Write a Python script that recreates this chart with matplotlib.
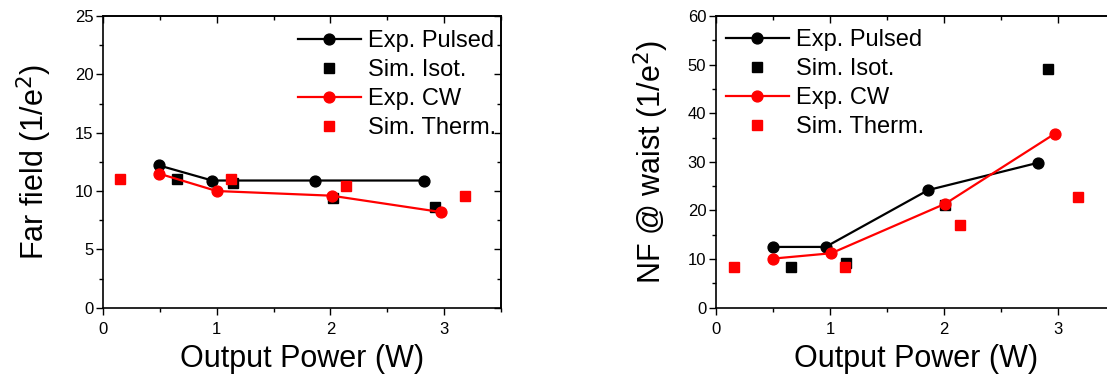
import matplotlib
matplotlib.use("Agg")
import matplotlib.pyplot as plt
from matplotlib.ticker import MultipleLocator

plt.rcParams['font.family'] = ['Liberation Sans', 'DejaVu Sans']

# Far field divergence (1/e^2)
ff_pulsed_x = [0.49, 0.96, 1.86, 2.82]
ff_pulsed_y = [12.2, 10.9, 10.9, 10.9]
ff_isot_x = [0.65, 1.14, 2.02, 2.92]
ff_isot_y = [11.05, 10.65, 9.4, 8.6]
ff_cw_x = [0.49, 1.00, 2.01, 2.97]
ff_cw_y = [11.5, 10.0, 9.6, 8.2]
ff_therm_x = [0.15, 1.13, 2.14, 3.18]
ff_therm_y = [11.0, 11.05, 10.4, 9.55]

# Near field at waist (1/e^2)
nf_pulsed_x = [0.50, 0.96, 1.86, 2.82]
nf_pulsed_y = [12.5, 12.5, 24.2, 29.8]
nf_isot_x = [0.66, 1.14, 2.01, 2.91]
nf_isot_y = [8.4, 9.25, 21.1, 49.2]
nf_cw_x = [0.50, 1.01, 2.01, 2.97]
nf_cw_y = [10.1, 11.2, 21.4, 35.8]
nf_therm_x = [0.16, 1.13, 2.14, 3.17]
nf_therm_y = [8.4, 8.4, 17.1, 22.8]

labels = ["Exp. Pulsed", "Sim. Isot.", "Exp. CW", "Sim. Therm."]

W, H = 1107, 374
fig = plt.figure(figsize=(W / 100, H / 100), dpi=100)

ax1 = fig.add_axes([103 / W, (H - 307.7) / H, 398 / W, 291.7 / H])
ax2 = fig.add_axes([716 / W, (H - 307.7) / H, 399.4 / W, 291.7 / H])


def draw(ax, px, py, ix, iy, cx, cy, tx, ty):
    ax.plot(px, py, '-o', color='black', lw=1.6, ms=7.8, label=labels[0])
    ax.plot(ix, iy, 's', color='black', ms=6.6, lw=0, label=labels[1])
    ax.plot(cx, cy, '-o', color='red', lw=1.6, ms=7.8, label=labels[2])
    ax.plot(tx, ty, 's', color='red', ms=6.6, lw=0, label=labels[3])


draw(ax1, ff_pulsed_x, ff_pulsed_y, ff_isot_x, ff_isot_y,
     ff_cw_x, ff_cw_y, ff_therm_x, ff_therm_y)
draw(ax2, nf_pulsed_x, nf_pulsed_y, nf_isot_x, nf_isot_y,
     nf_cw_x, nf_cw_y, nf_therm_x, nf_therm_y)

ax1.set_ylim(0, 25)
ax1.yaxis.set_major_locator(MultipleLocator(5))
ax1.yaxis.set_minor_locator(MultipleLocator(2.5))
ax2.set_ylim(0, 60)
ax2.yaxis.set_major_locator(MultipleLocator(10))
ax2.yaxis.set_minor_locator(MultipleLocator(5))

for ax in (ax1, ax2):
    ax.set_xlim(0, 3.5)
    ax.xaxis.set_major_locator(MultipleLocator(1))
    ax.xaxis.set_minor_locator(MultipleLocator(0.5))
    ax.tick_params(which='both', direction='out', top=False, right=False,
                   labelsize=12, width=1, pad=2)
    ax.tick_params(axis='x', which='major', pad=5)
    ax.tick_params(which='major', length=5)
    ax.tick_params(which='minor', length=3)
    for s in ax.spines.values():
        s.set_linewidth(1.2)
    # inward mirror ticks on top and right
    sec_x = ax.secondary_xaxis('top')
    sec_x.xaxis.set_major_locator(MultipleLocator(1))
    sec_x.xaxis.set_minor_locator(MultipleLocator(0.5))
    sec_x.tick_params(which='both', direction='in', labeltop=False, width=1)
    sec_x.tick_params(which='major', length=5)
    sec_x.tick_params(which='minor', length=3)
    sec_x.spines['top'].set_linewidth(1.2)
    sec_y = ax.secondary_yaxis('right')
    sec_y.yaxis.set_major_locator(ax.yaxis.get_major_locator())
    sec_y.yaxis.set_minor_locator(ax.yaxis.get_minor_locator())
    sec_y.tick_params(which='both', direction='in', labelright=False, width=1)
    sec_y.tick_params(which='major', length=5)
    sec_y.tick_params(which='minor', length=3)
    sec_y.spines['right'].set_linewidth(1.2)
    ax.set_xlabel("Output Power (W)", fontsize=22, labelpad=5)

ax1.set_ylabel("Far field (1/e$^2$)", fontsize=22, labelpad=15)
ax2.set_ylabel("NF @ waist (1/e$^2$)", fontsize=22, labelpad=12)

leg_kw = dict(loc='upper left', frameon=False, fontsize=17, borderpad=0,
              borderaxespad=0, handlelength=2.65, handletextpad=0.3,
              labelspacing=0.3)
ax1.legend(bbox_to_anchor=(0.49, 0.952), **leg_kw)
ax2.legend(bbox_to_anchor=(0.025, 0.955), **leg_kw)

fig.savefig("out.png", dpi=100)
